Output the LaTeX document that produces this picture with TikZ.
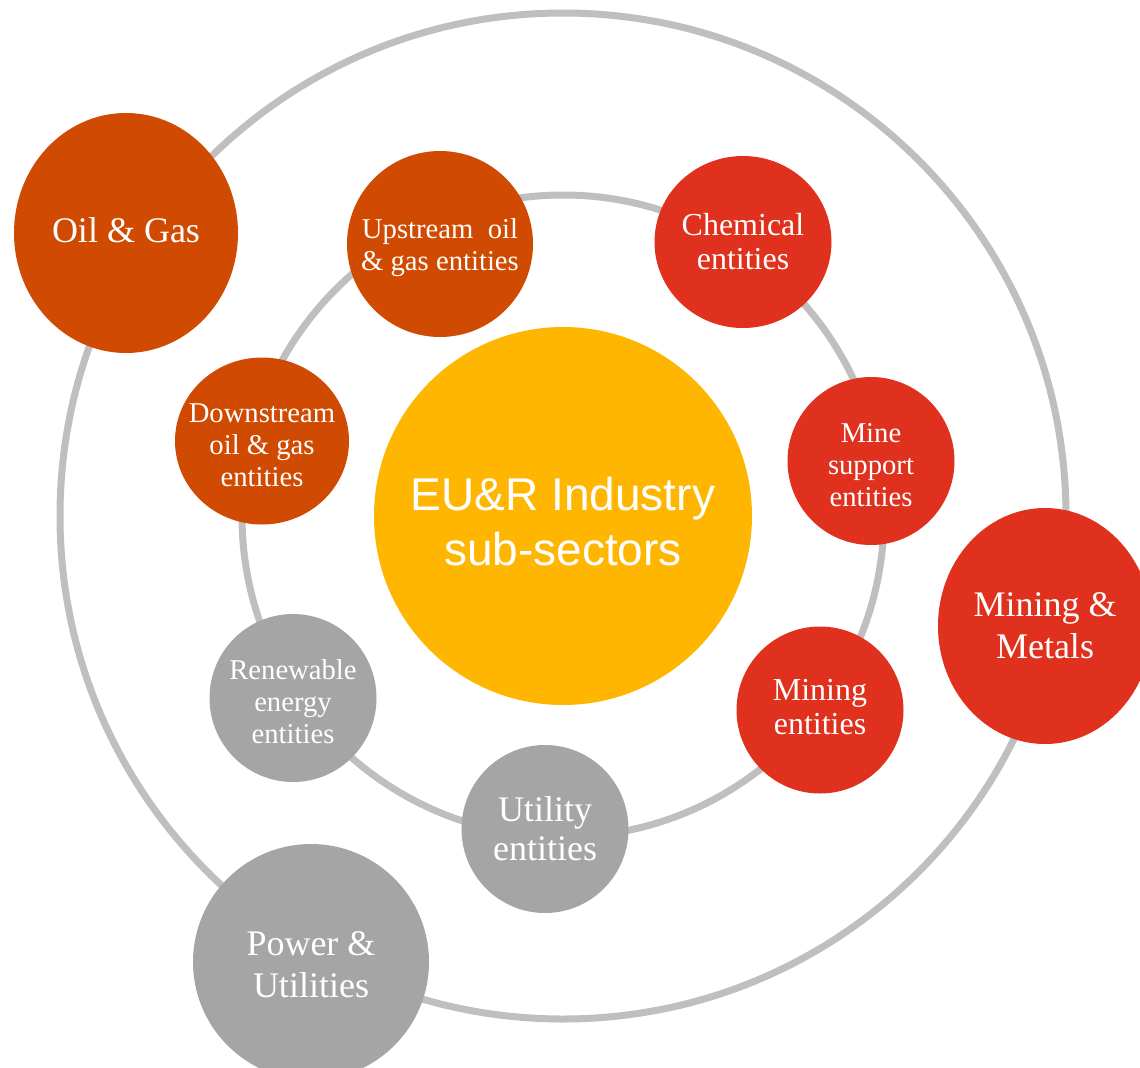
\documentclass[tikz,border=0pt]{standalone}
\usepackage{fontspec}
\setmainfont{Liberation Serif}
\newfontfamily\hubfont{Liberation Sans}
\usetikzlibrary{shapes.geometric}

\definecolor{oilorange}{HTML}{D04A02}
\definecolor{metalred}{HTML}{E0301E}
\definecolor{powergrey}{HTML}{A5A5A5}
\definecolor{hubyellow}{HTML}{FFB600}
\definecolor{ringgrey}{HTML}{BFBFBF}

\begin{document}
\begin{tikzpicture}[x=0.75pt,y=-0.75pt,
    ring/.style={draw=ringgrey,line width=5.25pt},
    sector/.style={ellipse,inner sep=0pt},
    oil/.style={sector,fill=oilorange},
    metal/.style={sector,fill=metalred},
    power/.style={sector,fill=powergrey},
    caption/.style={text=white,align=center,inner sep=0pt},
    big/.style={caption,font=\fontsize{27}{31.5}\selectfont},
    mid/.style={caption,font=\fontsize{24}{25.5}\selectfont},
    small/.style={caption,font=\fontsize{21.5}{24}\selectfont}]
  \useasboundingbox (0,0) rectangle (1140,1068);

  \node[sector,fill=hubyellow,minimum size=283.5pt,
        label={[caption,font=\hubfont\fontsize{34.5}{41}\selectfont,yshift=-4pt]center:EU\&R Industry\\sub-sectors}]
        (hub) at (563,516) {};

  % the two orbits
  \draw[ring] (hub.center) circle[radius=377.25pt];
  \draw[ring] (hub.center) circle[radius=240.75pt];

  % sectors on the outer orbit
  \node[oil,minimum width=168pt,minimum height=180pt,
        label={[big,yshift=2pt]center:Oil \& Gas}] (oilgas) at (126,233) {};
  \node[metal,minimum width=160.5pt,minimum height=177pt,
        label={[big]center:Mining \&\\Metals}] (metals) at (1045,626) {};
  \node[power,minimum size=177pt,
        label={[big,yshift=-2pt]center:Power \&\\Utilities}] (utilities) at (311,962) {};

  % entities on the inner orbit
  \node[oil,minimum size=139.5pt,
        label={[small,yshift=-3pt]center:Upstream\ \ oil\\\& gas entities}] (upstream) at (440,244) {};
  \node[oil,minimum width=130.5pt,minimum height=125.25pt,
        label={[small,yshift=-3pt]center:Downstream\\oil \& gas\\entities}] (downstream) at (262,441) {};
  \node[metal,minimum width=132.75pt,minimum height=129pt,
        label={[mid]center:Chemical\\entities}] (chemical) at (743,242) {};
  \node[metal,minimum width=125.25pt,minimum height=126pt,
        label={[small,yshift=-3pt]center:Mine\\support\\entities}] (minesupport) at (871,461) {};
  \node[metal,minimum size=125.25pt,
        label={[mid,yshift=2pt]center:Mining\\entities}] (mining) at (820,710) {};
  \node[power,minimum width=125.25pt,minimum height=126pt,
        label={[caption,font=\fontsize{27}{29}\selectfont]center:Utility\\entities}] (utility) at (545,829) {};
  \node[power,minimum width=125.25pt,minimum height=126pt,
        label={[small,yshift=-3pt]center:Renewable\\energy\\entities}] (renewable) at (293,698) {};
\end{tikzpicture}
\end{document}
